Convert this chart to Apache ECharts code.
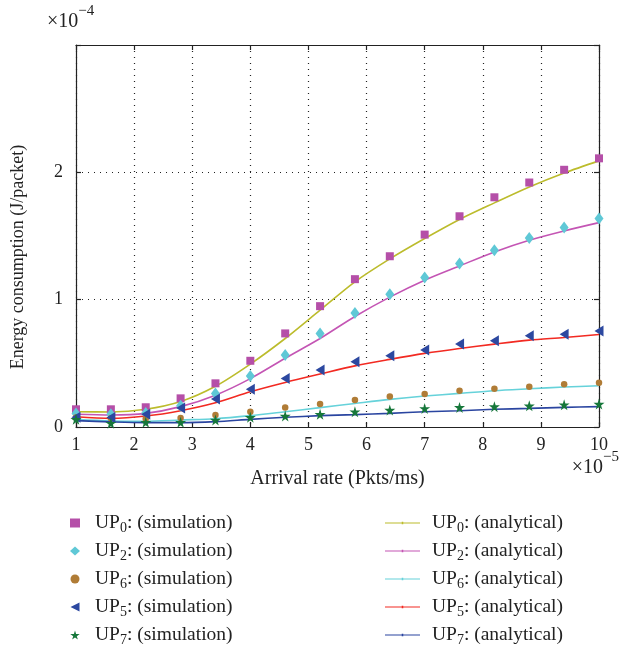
<!DOCTYPE html>
<html>
<head>
<meta charset="utf-8">
<script src="https://cdn.jsdelivr.net/npm/echarts@6/dist/echarts.min.js"></script>
<style>
html,body{margin:0;padding:0;background:#fff;}
#main{width:623px;height:650px;}
</style>
</head>
<body>
<div id="main"></div>
<script>
// Arrival rate (×10^-5 Pkts/ms)
var xVals = [1, 1.6, 2.2, 2.8, 3.4, 4.0, 4.6, 5.2, 5.8, 6.4, 7.0, 7.6, 8.2, 8.8, 9.4, 10];
var xTicks = [1, 2, 3, 4, 5, 6, 7, 8, 9, 10];
var yTicks = [0, 1, 2];
// Energy consumption (×10^-4 J/packet)
var up0Sim = [0.139, 0.139, 0.155, 0.225, 0.343, 0.52, 0.735, 0.949, 1.161, 1.341, 1.511, 1.655, 1.804, 1.92, 2.02, 2.11];
var up2Sim = [0.107, 0.10, 0.11, 0.167, 0.264, 0.40, 0.565, 0.735, 0.896, 1.043, 1.174, 1.284, 1.388, 1.485, 1.566, 1.637];
var up6Sim = [0.075, 0.068, 0.065, 0.07, 0.094, 0.12, 0.154, 0.18, 0.212, 0.24, 0.259, 0.285, 0.30, 0.316, 0.335, 0.348];
var up5Sim = [0.076, 0.075, 0.10, 0.15, 0.22, 0.296, 0.38, 0.447, 0.512, 0.56, 0.604, 0.651, 0.677, 0.716, 0.729, 0.753];
var up7Sim = [0.06, 0.03, 0.037, 0.037, 0.055, 0.076, 0.086, 0.10, 0.12, 0.133, 0.146, 0.154, 0.16, 0.167, 0.175, 0.18];

var up0Ana = [0.12, 0.118, 0.139, 0.2, 0.32, 0.494, 0.695, 0.918, 1.14, 1.32, 1.48, 1.63, 1.76, 1.885, 1.995, 2.09];
var up2Ana = [0.10, 0.094, 0.107, 0.16, 0.25, 0.38, 0.54, 0.695, 0.868, 1.02, 1.153, 1.265, 1.375, 1.467, 1.54, 1.605];
var up6Ana = [0.06, 0.047, 0.045, 0.055, 0.065, 0.089, 0.12, 0.152, 0.185, 0.217, 0.243, 0.264, 0.285, 0.30, 0.314, 0.324];
var up5Ana = [0.081, 0.068, 0.086, 0.128, 0.19, 0.277, 0.35, 0.416, 0.48, 0.531, 0.578, 0.617, 0.651, 0.682, 0.703, 0.727];
var up7Ana = [0.05, 0.04, 0.034, 0.034, 0.042, 0.06, 0.076, 0.089, 0.097, 0.107, 0.12, 0.128, 0.139, 0.146, 0.154, 0.16];

var simNames = ['UP0: (simulation)', 'UP2: (simulation)', 'UP6: (simulation)', 'UP5: (simulation)', 'UP7: (simulation)'];
var anaNames = ['UP0: (analytical)', 'UP2: (analytical)', 'UP6: (analytical)', 'UP5: (analytical)', 'UP7: (analytical)'];

var FONT = '"Liberation Serif", "DejaVu Serif", serif';

function pairs(ys) { return xVals.map(function (x, i) { return [x, ys[i]]; }); }

var starPath = 'path://M50,0 L61,35 L98,35 L68,57 L79,91 L50,70 L21,91 L32,57 L2,35 L39,35 Z';
var leftTri = 'path://M0,50 L100,0 L100,100 Z';
var lineIcon = 'path://M0,4.4 L36,4.4 L36,5.6 L0,5.6 Z M17.2,3.6 L18.8,3.6 L18.8,6.4 L17.2,6.4 Z';

var simDefs = [
  {name: simNames[0], data: up0Sim, color: '#b54fa8', symbol: 'rect', size: 8},
  {name: simNames[1], data: up2Sim, color: '#5fc8d6', symbol: 'diamond', size: [9, 12]},
  {name: simNames[2], data: up6Sim, color: '#b07c36', symbol: 'circle', size: 6.5},
  {name: simNames[3], data: up5Sim, color: '#2c48a0', symbol: leftTri, size: [9, 11]},
  {name: simNames[4], data: up7Sim, color: '#16773a', symbol: starPath, size: 11}
];
var anaDefs = [
  {name: anaNames[0], data: up0Ana, color: '#bcbc2c'},
  {name: anaNames[1], data: up2Ana, color: '#c455b4'},
  {name: anaNames[2], data: up6Ana, color: '#66d2da'},
  {name: anaNames[3], data: up5Ana, color: '#f22a22'},
  {name: anaNames[4], data: up7Ana, color: '#2a45a0'}
];

var series = [];
anaDefs.forEach(function (d) {
  series.push({
    name: d.name, type: 'line', data: pairs(d.data),
    smooth: 0.3, symbol: 'circle', symbolSize: 2, showSymbol: false,
    lineStyle: {color: d.color, width: 1.6},
    itemStyle: {color: d.color},
    z: 2, animation: false
  });
});
simDefs.forEach(function (d) {
  series.push({
    name: d.name, type: 'scatter', data: pairs(d.data),
    symbol: d.symbol, symbolSize: d.size,
    itemStyle: {color: d.color, opacity: 1},
    z: 3, animation: false
  });
});

function legendFmt(name) {
  var m = name.match(/^UP(\d)(.*)$/);
  return '{f|UP}{s|' + m[1] + '}{n|' + m[2] + '}';
}
function makeRich(pad) {
  return {
    f: {fontFamily: FONT, fontSize: 19.5, color: '#222', verticalAlign: 'middle', padding: [0, 0, 0, pad]},
    n: {fontFamily: FONT, fontSize: 19.5, color: '#222', verticalAlign: 'middle'},
    s: {fontFamily: FONT, fontSize: 14, color: '#222', verticalAlign: 'bottom', padding: [11, 0, 0, 0]}
  };
}

var axisLineStyle = {color: '#222', width: 1.2};
var supRich = {
  a: {fontFamily: FONT, fontSize: 20, fill: '#222', lineHeight: 28, verticalAlign: 'bottom'},
  b: {fontFamily: FONT, fontSize: 15, fill: '#222', lineHeight: 15, verticalAlign: 'top'}
};

var option = {
  backgroundColor: '#fff',
  animation: false,
  grid: {left: 76, right: 24, top: 45, bottom: 223, containLabel: false},
  xAxis: [{
    type: 'value', min: 1, max: 10, interval: 1, position: 'bottom',
    axisLine: {show: true, onZero: false, lineStyle: axisLineStyle},
    axisTick: {show: true, inside: true, length: 5, lineStyle: axisLineStyle},
    axisLabel: {fontFamily: FONT, fontSize: 18, color: '#222', margin: 9,
      formatter: function (v) { return xTicks.indexOf(v) >= 0 ? String(v) : ''; }},
    splitLine: {show: true, lineStyle: {color: '#222', type: [1, 5], width: 1.2}},
    name: 'Arrival rate (Pkts/ms)', nameLocation: 'middle', nameGap: 42,
    nameTextStyle: {fontFamily: FONT, fontSize: 20, color: '#222'}
  }, {
    type: 'value', min: 1, max: 10, interval: 1, position: 'top',
    axisLine: {show: true, onZero: false, lineStyle: axisLineStyle},
    axisTick: {show: true, inside: true, length: 5, lineStyle: axisLineStyle},
    axisLabel: {show: false}, splitLine: {show: false}
  }],
  yAxis: [{
    type: 'value', min: 0, max: 3, interval: 1, position: 'left',
    axisLine: {show: true, onZero: false, lineStyle: axisLineStyle},
    axisTick: {show: true, inside: true, length: 5, lineStyle: axisLineStyle},
    axisLabel: {fontFamily: FONT, fontSize: 18, color: '#222', margin: 13,
      formatter: function (v) { return yTicks.indexOf(v) >= 0 ? String(v) : ''; }},
    splitLine: {show: true, lineStyle: {color: '#222', type: [1, 5], width: 1.2}}
  }, {
    type: 'value', min: 0, max: 3, interval: 1, position: 'right',
    axisLine: {show: true, onZero: false, lineStyle: axisLineStyle},
    axisTick: {show: true, inside: true, length: 5, lineStyle: axisLineStyle},
    axisLabel: {show: false}, splitLine: {show: false}
  }],
  legend: [{
    data: simNames, orient: 'vertical', left: 70, top: 513, padding: 0,
    itemWidth: 10, itemHeight: 9, itemGap: 5.5,
    formatter: legendFmt, textStyle: {rich: makeRich(10)}
  }, {
    data: anaNames, orient: 'vertical', left: 385, top: 513, padding: 0,
    itemWidth: 35, itemHeight: 9, itemGap: 5.5, icon: lineIcon,
    formatter: legendFmt, textStyle: {rich: makeRich(7)}
  }],
  graphic: [{
    type: 'text', left: 47, top: 4,
    style: {text: '{a|×10}{b|−4}', rich: supRich}
  }, {
    type: 'text', right: 4, top: 450,
    style: {text: '{a|×10}{b|−5}', rich: supRich}
  }, {
    type: 'text', x: 18, y: 257, rotation: Math.PI / 2,
    style: {text: 'Energy consumption (J/packet)', fontFamily: FONT, fontSize: 18, fill: '#222',
      align: 'center', verticalAlign: 'middle'}
  }],
  series: series
};

var chart = echarts.init(document.getElementById('main'), null, {renderer: 'canvas'});
chart.setOption(option);
</script>
</body>
</html>
